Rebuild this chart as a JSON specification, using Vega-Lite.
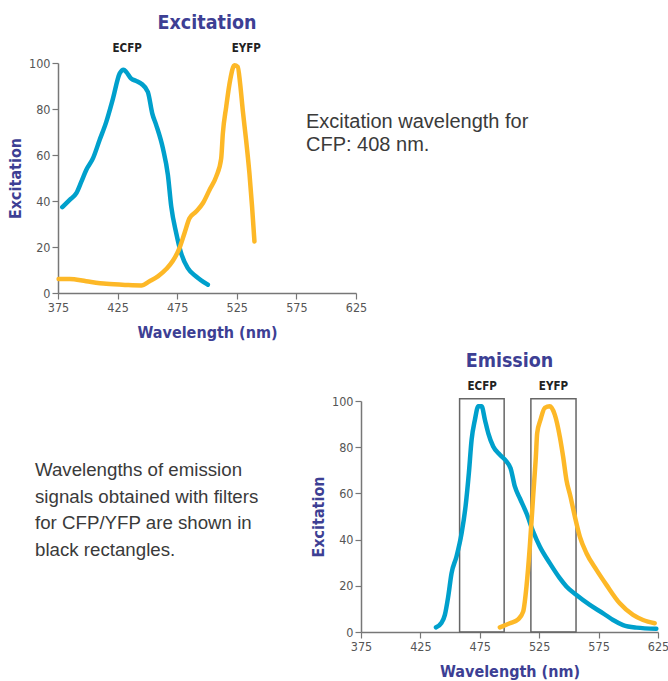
{
  "$schema": "https://vega.github.io/schema/vega-lite/v6.json",
  "padding": {"left": 7, "top": 12, "right": 0, "bottom": 2},
  "background": "white",
  "columns": 2,
  "bounds": "flush",
  "align": "all",
  "spacing": {"row": 107, "column": 5},
  "datasets": {
    "excitation": [
      {"protein": "ECFP", "wavelength": 378.6, "value": 37.3},
      {"protein": "ECFP", "wavelength": 384.8, "value": 40.5},
      {"protein": "ECFP", "wavelength": 390.4, "value": 43.4},
      {"protein": "ECFP", "wavelength": 394.6, "value": 48.4},
      {"protein": "ECFP", "wavelength": 398.7, "value": 53.5},
      {"protein": "ECFP", "wavelength": 404.3, "value": 58.5},
      {"protein": "ECFP", "wavelength": 409.9, "value": 66.5},
      {"protein": "ECFP", "wavelength": 415.5, "value": 74.4},
      {"protein": "ECFP", "wavelength": 421.1, "value": 84.5},
      {"protein": "ECFP", "wavelength": 426.7, "value": 95.4},
      {"protein": "ECFP", "wavelength": 430.0, "value": 97.1},
      {"protein": "ECFP", "wavelength": 432.3, "value": 96.1},
      {"protein": "ECFP", "wavelength": 436.4, "value": 93.2},
      {"protein": "ECFP", "wavelength": 440.6, "value": 92.2},
      {"protein": "ECFP", "wavelength": 444.9, "value": 91.0},
      {"protein": "ECFP", "wavelength": 450.4, "value": 87.4},
      {"protein": "ECFP", "wavelength": 454.1, "value": 78.0},
      {"protein": "ECFP", "wavelength": 457.4, "value": 73.0},
      {"protein": "ECFP", "wavelength": 463.0, "value": 62.9},
      {"protein": "ECFP", "wavelength": 467.2, "value": 51.3},
      {"protein": "ECFP", "wavelength": 470.0, "value": 37.6},
      {"protein": "ECFP", "wavelength": 474.2, "value": 26.0},
      {"protein": "ECFP", "wavelength": 478.3, "value": 17.3},
      {"protein": "ECFP", "wavelength": 483.9, "value": 10.8},
      {"protein": "ECFP", "wavelength": 490.9, "value": 7.2},
      {"protein": "ECFP", "wavelength": 500.7, "value": 3.6},
      {"protein": "EYFP", "wavelength": 375.5, "value": 6.1},
      {"protein": "EYFP", "wavelength": 384.8, "value": 6.1},
      {"protein": "EYFP", "wavelength": 398.7, "value": 5.1},
      {"protein": "EYFP", "wavelength": 415.5, "value": 4.0},
      {"protein": "EYFP", "wavelength": 432.3, "value": 3.5},
      {"protein": "EYFP", "wavelength": 444.9, "value": 3.3},
      {"protein": "EYFP", "wavelength": 451.8, "value": 5.1},
      {"protein": "EYFP", "wavelength": 458.8, "value": 7.2},
      {"protein": "EYFP", "wavelength": 465.8, "value": 10.4},
      {"protein": "EYFP", "wavelength": 471.4, "value": 14.0},
      {"protein": "EYFP", "wavelength": 476.9, "value": 19.5},
      {"protein": "EYFP", "wavelength": 481.1, "value": 26.0},
      {"protein": "EYFP", "wavelength": 485.3, "value": 32.5},
      {"protein": "EYFP", "wavelength": 490.9, "value": 35.4},
      {"protein": "EYFP", "wavelength": 496.5, "value": 39.0},
      {"protein": "EYFP", "wavelength": 502.1, "value": 44.8},
      {"protein": "EYFP", "wavelength": 507.7, "value": 50.6},
      {"protein": "EYFP", "wavelength": 511.9, "value": 58.5},
      {"protein": "EYFP", "wavelength": 513.3, "value": 69.4},
      {"protein": "EYFP", "wavelength": 516.1, "value": 80.9},
      {"protein": "EYFP", "wavelength": 519.4, "value": 92.5},
      {"protein": "EYFP", "wavelength": 523.0, "value": 99.0},
      {"protein": "EYFP", "wavelength": 525.8, "value": 98.3},
      {"protein": "EYFP", "wavelength": 527.8, "value": 91.0},
      {"protein": "EYFP", "wavelength": 530.0, "value": 79.5},
      {"protein": "EYFP", "wavelength": 532.8, "value": 66.5},
      {"protein": "EYFP", "wavelength": 535.6, "value": 52.0},
      {"protein": "EYFP", "wavelength": 537.8, "value": 37.6},
      {"protein": "EYFP", "wavelength": 539.8, "value": 22.4}
    ],
    "emission": [
      {"protein": "ECFP", "wavelength": 438.1, "value": 2.0},
      {"protein": "ECFP", "wavelength": 442.8, "value": 4.0},
      {"protein": "ECFP", "wavelength": 445.6, "value": 7.4},
      {"protein": "ECFP", "wavelength": 448.4, "value": 15.3},
      {"protein": "ECFP", "wavelength": 451.2, "value": 25.4},
      {"protein": "ECFP", "wavelength": 455.4, "value": 32.7},
      {"protein": "ECFP", "wavelength": 459.7, "value": 42.8},
      {"protein": "ECFP", "wavelength": 463.0, "value": 54.3},
      {"protein": "ECFP", "wavelength": 465.8, "value": 68.8},
      {"protein": "ECFP", "wavelength": 468.1, "value": 83.2},
      {"protein": "ECFP", "wavelength": 470.9, "value": 91.9},
      {"protein": "ECFP", "wavelength": 473.7, "value": 97.7},
      {"protein": "ECFP", "wavelength": 476.5, "value": 97.7},
      {"protein": "ECFP", "wavelength": 479.3, "value": 91.9},
      {"protein": "ECFP", "wavelength": 482.1, "value": 86.1},
      {"protein": "ECFP", "wavelength": 486.3, "value": 80.3},
      {"protein": "ECFP", "wavelength": 491.9, "value": 76.7},
      {"protein": "ECFP", "wavelength": 497.5, "value": 73.8},
      {"protein": "ECFP", "wavelength": 500.9, "value": 70.9},
      {"protein": "ECFP", "wavelength": 504.5, "value": 63.0},
      {"protein": "ECFP", "wavelength": 508.7, "value": 57.9},
      {"protein": "ECFP", "wavelength": 514.3, "value": 51.4},
      {"protein": "ECFP", "wavelength": 519.9, "value": 43.5},
      {"protein": "ECFP", "wavelength": 525.5, "value": 37.0},
      {"protein": "ECFP", "wavelength": 533.9, "value": 29.8},
      {"protein": "ECFP", "wavelength": 542.3, "value": 23.3},
      {"protein": "ECFP", "wavelength": 547.9, "value": 19.7},
      {"protein": "ECFP", "wavelength": 556.4, "value": 16.0},
      {"protein": "ECFP", "wavelength": 567.6, "value": 11.7},
      {"protein": "ECFP", "wavelength": 578.8, "value": 8.1},
      {"protein": "ECFP", "wavelength": 587.2, "value": 5.2},
      {"protein": "ECFP", "wavelength": 595.6, "value": 3.0},
      {"protein": "ECFP", "wavelength": 606.8, "value": 1.9},
      {"protein": "ECFP", "wavelength": 623.6, "value": 1.4},
      {"protein": "EYFP", "wavelength": 491.9, "value": 2.0},
      {"protein": "EYFP", "wavelength": 500.3, "value": 3.8},
      {"protein": "EYFP", "wavelength": 507.3, "value": 5.5},
      {"protein": "EYFP", "wavelength": 511.5, "value": 8.8},
      {"protein": "EYFP", "wavelength": 514.3, "value": 19.7},
      {"protein": "EYFP", "wavelength": 517.1, "value": 37.0},
      {"protein": "EYFP", "wavelength": 519.9, "value": 58.7},
      {"protein": "EYFP", "wavelength": 522.2, "value": 76.0},
      {"protein": "EYFP", "wavelength": 523.3, "value": 86.1},
      {"protein": "EYFP", "wavelength": 526.1, "value": 91.9},
      {"protein": "EYFP", "wavelength": 529.7, "value": 97.0},
      {"protein": "EYFP", "wavelength": 533.9, "value": 97.7},
      {"protein": "EYFP", "wavelength": 538.1, "value": 94.1},
      {"protein": "EYFP", "wavelength": 542.3, "value": 84.7},
      {"protein": "EYFP", "wavelength": 545.1, "value": 76.0},
      {"protein": "EYFP", "wavelength": 547.9, "value": 65.9},
      {"protein": "EYFP", "wavelength": 551.3, "value": 58.7},
      {"protein": "EYFP", "wavelength": 555.0, "value": 50.0},
      {"protein": "EYFP", "wavelength": 559.2, "value": 41.3},
      {"protein": "EYFP", "wavelength": 564.8, "value": 34.1},
      {"protein": "EYFP", "wavelength": 573.2, "value": 26.9},
      {"protein": "EYFP", "wavelength": 581.6, "value": 20.4},
      {"protein": "EYFP", "wavelength": 592.8, "value": 12.4},
      {"protein": "EYFP", "wavelength": 604.0, "value": 7.4},
      {"protein": "EYFP", "wavelength": 612.4, "value": 5.2},
      {"protein": "EYFP", "wavelength": 622.2, "value": 3.8}
    ],
    "excitationLabels": [
      {"protein": "ECFP", "wavelength": 433},
      {"protein": "EYFP", "wavelength": 533}
    ],
    "emissionLabels": [
      {"protein": "ECFP", "wavelength": 477},
      {"protein": "EYFP", "wavelength": 537}
    ],
    "filters": [
      {"protein": "ECFP", "from": 458, "to": 495.5},
      {"protein": "EYFP", "from": 518, "to": 556}
    ]
  },
  "concat": [
    {
      "width": 298,
      "height": 230,
      "title": {"text": "Excitation", "offset": 10},
      "layer": [
        {
          "data": {"name": "excitation"},
          "mark": {"type": "line", "strokeWidth": 4.5, "strokeCap": "round", "strokeJoin": "round", "interpolate": "monotone"},
          "encoding": {
            "x": {"field": "wavelength", "type": "quantitative", "scale": {"domain": [375, 625], "nice": false, "zero": false},
              "axis": {"values": [375, 425, 475, 525, 575, 625], "title": "Wavelength (nm)"}},
            "y": {"field": "value", "type": "quantitative", "scale": {"domain": [0, 100], "nice": false},
              "axis": {"values": [0, 10, 20, 30, 40, 50, 60, 70, 80, 90, 100], "labelExpr": "datum.value % 20 == 0 ? datum.label : ''", "title": "Excitation"}},
            "color": {"field": "protein", "type": "nominal", "scale": {"domain": ["ECFP", "EYFP"], "range": ["#00A0CC", "#FDB827"]}, "legend": null}
          }
        },
        {
          "data": {"name": "excitationLabels"},
          "mark": {"type": "text", "font": "DejaVu Sans Condensed, DejaVu Sans, sans-serif", "fontWeight": "bold", "fontSize": 11.5, "color": "#222", "baseline": "middle"},
          "encoding": {
            "x": {"field": "wavelength", "type": "quantitative"},
            "y": {"datum": 106},
            "text": {"field": "protein"}
          }
        }
      ]
    },
    {
      "width": 200,
      "height": 40,
      "data": {"values": []},
      "mark": "point",
      "title": {
        "text": ["Excitation wavelength for", "CFP: 408 nm."],
        "orient": "bottom", "anchor": "start", "frame": "group", "baseline": "top",
        "offset": 9, "dx": -55,
        "font": "Liberation Sans", "fontSize": 20, "fontWeight": "normal", "color": "#3a3a3a", "lineHeight": 23
      }
    },
    {
      "width": 200,
      "height": 50,
      "data": {"values": []},
      "mark": "point",
      "title": {
        "text": ["Wavelengths of emission", "signals obtained with filters", "for CFP/YFP are shown in", "black rectangles."],
        "orient": "bottom", "anchor": "start", "frame": "group", "baseline": "top",
        "offset": 10, "dx": -23,
        "font": "Liberation Sans", "fontSize": 18.7, "fontWeight": "normal", "color": "#3a3a3a", "lineHeight": 26.5
      }
    },
    {
      "width": 297,
      "height": 231,
      "title": {"text": "Emission", "offset": 10},
      "layer": [
        {
          "data": {"name": "filters"},
          "mark": {"type": "rect", "fill": null, "stroke": "#666666", "strokeWidth": 1.5},
          "encoding": {
            "x": {"field": "from", "type": "quantitative", "scale": {"domain": [375, 625], "nice": false, "zero": false}},
            "x2": {"field": "to"},
            "y": {"datum": 0, "type": "quantitative"},
            "y2": {"datum": 101}
          }
        },
        {
          "data": {"name": "emission"},
          "mark": {"type": "line", "strokeWidth": 4.5, "strokeCap": "round", "strokeJoin": "round", "interpolate": "monotone"},
          "encoding": {
            "x": {"field": "wavelength", "type": "quantitative", "scale": {"domain": [375, 625], "nice": false, "zero": false},
              "axis": {"values": [375, 425, 475, 525, 575, 625], "title": "Wavelength (nm)"}},
            "y": {"field": "value", "type": "quantitative", "scale": {"domain": [0, 100], "nice": false},
              "axis": {"values": [0, 10, 20, 30, 40, 50, 60, 70, 80, 90, 100], "labelExpr": "datum.value % 20 == 0 ? datum.label : ''", "title": "Excitation"}},
            "color": {"field": "protein", "type": "nominal", "scale": {"domain": ["ECFP", "EYFP"], "range": ["#00A0CC", "#FDB827"]}, "legend": null}
          }
        },
        {
          "data": {"name": "emissionLabels"},
          "mark": {"type": "text", "font": "DejaVu Sans Condensed, DejaVu Sans, sans-serif", "fontWeight": "bold", "fontSize": 11.5, "color": "#222", "baseline": "middle"},
          "encoding": {
            "x": {"field": "wavelength", "type": "quantitative"},
            "y": {"datum": 106},
            "text": {"field": "protein"}
          }
        }
      ]
    }
  ],
  "config": {
    "view": {"stroke": null},
    "title": {"font": "DejaVu Sans Condensed, DejaVu Sans, sans-serif", "fontSize": 19.5, "fontWeight": "bold", "color": "#3D3F94", "anchor": "middle"},
    "axis": {
      "grid": false,
      "domainColor": "#777777",
      "domainWidth": 1.5,
      "tickColor": "#777777",
      "tickWidth": 1.2,
      "tickSize": 6,
      "labelFont": "DejaVu Sans Condensed, DejaVu Sans, sans-serif",
      "labelFontSize": 12.5,
      "labelColor": "#555555",
      "labelPadding": 2,
      "titleFont": "DejaVu Sans Condensed, DejaVu Sans, sans-serif",
      "titleFontSize": 16,
      "titleFontWeight": "bold",
      "titleColor": "#3D3F94"
    },
    "axisX": {"titlePadding": 11, "labelFlush": false},
    "axisY": {"titlePadding": 5}
  }
}
